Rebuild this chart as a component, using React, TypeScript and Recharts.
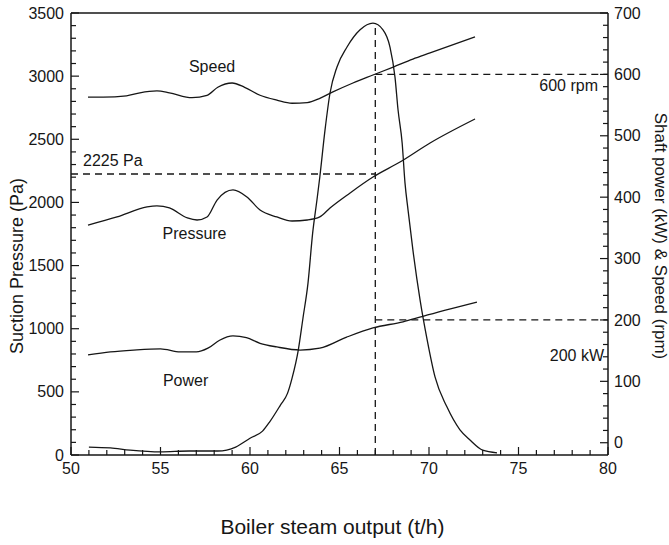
import React from "react";
import { LineChart, Line, XAxis, YAxis, ReferenceLine, ReferenceDot } from "recharts";

const FONT = "'Liberation Sans', Arial, Helvetica, sans-serif";
const INK = "#161616";

// boiler steam output axis (t/h)
const xTicks = Array.from({ length: 31 }, (_, i) => 50 + i);
// suction pressure axis (Pa), minor every 100
const paTicks = Array.from({ length: 36 }, (_, i) => i * 100);
// shaft power / speed axis, minor every 20
const rightTicks = Array.from({ length: 36 }, (_, i) => i * 20);

// Speed (rpm)
const speedLoad = [50.95, 51.8, 53.1, 53.85, 54.8, 55.5, 56.76, 57.6, 58.2, 59.0, 59.7, 60.56, 61.5, 62.35, 63.2, 63.9, 64.6, 65.75, 66.87, 68.0, 69.1, 70.06, 72.57];
const speedRpm = [563, 563, 565, 570, 573, 570, 562, 566, 579, 586, 579, 566, 558, 553, 554, 561, 571, 586, 599, 612, 625, 635, 661];

// Suction pressure (Pa)
const pressureLoad = [50.95, 52.57, 54.25, 54.8, 55.5, 56.5, 57.04, 57.6, 58.16, 59.05, 59.83, 60.56, 61.5, 62.35, 63.2, 63.9, 64.47, 65.59, 66.87, 68.38, 70.06, 72.57];
const pressurePa = [1821, 1885, 1964, 1972, 1956, 1877, 1861, 1885, 2019, 2099, 2043, 1940, 1885, 1853, 1861, 1885, 1956, 2075, 2201, 2320, 2471, 2661];

// Shaft power (kW)
const powerLoad = [50.95, 52.2, 53.5, 55.0, 56.1, 57.0, 57.65, 58.3, 59.05, 59.8, 60.56, 61.5, 62.8, 63.9, 65.4, 66.87, 68.55, 69.66, 72.68];
const powerKw = [143, 148, 151, 153, 148, 148, 154, 167, 174, 171, 162, 156, 151, 154, 172, 187, 197, 206, 229];

// operating-time distribution (relative, no scale shown)
const flowLoad = [51.0, 52.2, 53.3, 55.0, 56.6, 58.2, 59.2, 60.0, 60.7, 61.1, 61.7, 62.1, 62.35, 62.7, 62.96, 63.24, 63.5, 63.74, 63.9, 64.19, 64.47, 64.86, 65.42, 66.15, 66.87, 67.43, 67.82, 68.1, 68.27, 68.5, 68.66, 68.83, 69.1, 69.5, 69.9, 70.34, 71.0, 71.73, 72.29, 73.0, 73.8];
const flowFreq = [1.8, 1.6, 1.1, 0.7, 0.9, 0.9, 1.8, 3.8, 5.4, 7.5, 11.3, 14.0, 17.4, 23.8, 31.0, 38.9, 50.2, 57.7, 62.9, 73.5, 81.9, 87.8, 92.3, 96.2, 97.7, 96.2, 92.3, 85.5, 78.1, 70.6, 61.5, 55.4, 46.4, 35.1, 26.0, 17.6, 10.9, 5.7, 3.4, 1.1, 0.5];

const zip = (xs: number[], ys: number[]) => xs.map((x, i) => ({ x, y: ys[i] }));

const speedData = zip(speedLoad, speedRpm);
const pressureData = zip(pressureLoad, pressurePa);
const powerData = zip(powerLoad, powerKw);
const flowData = zip(flowLoad, flowFreq);

const designLoad = 67;
const designPa = 2225;
const designRpm = 600;
const designKw = 200;
const peakFreq = 97.7;

const notes = [
  { text: "Speed", x: 57.88, y: 3081, axis: "left", pos: "center" },
  { text: "Pressure", x: 56.9, y: 1758, axis: "left", pos: "center" },
  { text: "Power", x: 56.4, y: 594, axis: "left", pos: "center" },
  { text: "2225 Pa", x: 50.67, y: 2330, axis: "left", pos: "right" },
  { text: "600 rpm", x: 79.44, y: 583, axis: "right", pos: "left" },
  { text: "200 kW", x: 79.78, y: 143, axis: "right", pos: "left" },
];

const BottomTick = (props: any) => {
  const { x, y, payload } = props;
  const major = payload.value % 5 === 0;
  return (
    <g>
      <line x1={x} y1={y} x2={x} y2={y - (major ? 8 : 5)} stroke={INK} strokeWidth={1.2} />
      {major && (
        <text x={x} y={y + 19} textAnchor="middle" fontSize={16} fill={INK}>
          {payload.value}
        </text>
      )}
    </g>
  );
};

const LeftTick = (props: any) => {
  const { x, y, payload } = props;
  const major = payload.value % 500 === 0;
  return (
    <g>
      <line x1={x} y1={y} x2={x + (major ? 8 : 5)} y2={y} stroke={INK} strokeWidth={1.2} />
      {major && (
        <text x={x - 7} y={y} dy="0.35em" textAnchor="end" fontSize={16} fill={INK}>
          {payload.value}
        </text>
      )}
    </g>
  );
};

const RightTick = (props: any) => {
  const { x, y, payload } = props;
  const major = payload.value % 100 === 0;
  return (
    <g>
      <line x1={x} y1={y} x2={x - (major ? 8 : 5)} y2={y} stroke={INK} strokeWidth={1.2} />
      {major && (
        <text x={x + 6} y={y} dy="0.35em" textAnchor="start" fontSize={16} fill={INK}>
          {payload.value}
        </text>
      )}
    </g>
  );
};

const series = { stroke: INK, strokeWidth: 1.3, dot: false, isAnimationActive: false, type: "monotone" as const };
const dashed = { stroke: INK, strokeWidth: 1.3, strokeDasharray: "7 5" };

export default function App() {
  return (
    <div style={{ position: "absolute", left: 0, top: 0, background: "#fff", fontFamily: FONT }}>
      <LineChart width={669} height={545} margin={{ top: 13, right: 0, bottom: 0, left: 0 }}>
        <XAxis
          dataKey="x"
          type="number"
          domain={[50, 80]}
          ticks={xTicks}
          interval={0}
          height={90}
          tickSize={0}
          tickMargin={0}
          tickLine={false}
          tick={<BottomTick />}
          axisLine={{ stroke: INK, strokeWidth: 1.5 }}
          allowDataOverflow
          label={(p: any) => {
            const vb = p.viewBox;
            return (
              <text x={vb.x + vb.width / 2 - 7} y={vb.y + 79} textAnchor="middle" fontSize={21} fill={INK}>
                Boiler steam output (t/h)
              </text>
            );
          }}
        />
        <YAxis
          yAxisId="left"
          type="number"
          domain={[0, 3500]}
          ticks={paTicks}
          interval={0}
          width={71}
          tickSize={0}
          tickMargin={0}
          tickLine={false}
          tick={<LeftTick />}
          axisLine={{ stroke: INK, strokeWidth: 1.5 }}
          allowDataOverflow
          label={(p: any) => {
            const vb = p.viewBox;
            const cx = vb.x + 17;
            const cy = vb.y + vb.height / 2 + 32;
            return (
              <text x={cx} y={cy} transform={`rotate(-90 ${cx} ${cy})`} textAnchor="middle" dominantBaseline="central" fontSize={18} fill={INK}>
                Suction Pressure (Pa)
              </text>
            );
          }}
        />
        <YAxis
          yAxisId="right"
          orientation="right"
          type="number"
          domain={[-20, 700]}
          ticks={rightTicks}
          interval={0}
          width={61}
          tickSize={0}
          tickMargin={0}
          tickLine={false}
          tick={<RightTick />}
          axisLine={{ stroke: INK, strokeWidth: 1.5 }}
          allowDataOverflow
          label={(p: any) => {
            const vb = p.viewBox;
            const cx = vb.x + 52;
            const cy = vb.y + vb.height / 2 + 2;
            return (
              <text x={cx} y={cy} transform={`rotate(90 ${cx} ${cy})`} textAnchor="middle" dominantBaseline="central" fontSize={17} fill={INK}>
                Shaft power (kW) &amp; Speed (rpm)
              </text>
            );
          }}
        />
        <YAxis yAxisId="freq" orientation="right" hide width={0} type="number" domain={[0, 100]} allowDataOverflow />

        <ReferenceLine yAxisId="left" y={3500} stroke={INK} strokeWidth={1.5} />
        <ReferenceLine
          yAxisId="left"
          segment={[{ x: 50, y: designPa }, { x: designLoad, y: designPa }]}
          {...dashed}
        />
        <ReferenceLine
          yAxisId="right"
          segment={[{ x: designLoad, y: designRpm }, { x: 80, y: designRpm }]}
          {...dashed}
        />
        <ReferenceLine
          yAxisId="right"
          segment={[{ x: designLoad, y: designKw }, { x: 80, y: designKw }]}
          {...dashed}
        />
        <ReferenceLine
          yAxisId="freq"
          segment={[{ x: designLoad, y: 0 }, { x: designLoad, y: peakFreq }]}
          {...dashed}
        />

        <Line data={flowData} dataKey="y" yAxisId="freq" {...series} />
        <Line data={speedData} dataKey="y" yAxisId="right" {...series} />
        <Line data={pressureData} dataKey="y" yAxisId="left" {...series} />
        <Line data={powerData} dataKey="y" yAxisId="right" {...series} />

        {notes.map((n) => (
          <ReferenceDot
            key={n.text}
            x={n.x}
            y={n.y}
            yAxisId={n.axis}
            r={0}
            fill="none"
            stroke="none"
            label={{ value: n.text, position: n.pos as any, offset: 0, fontSize: 16, fill: INK }}
          />
        ))}
      </LineChart>
    </div>
  );
}
